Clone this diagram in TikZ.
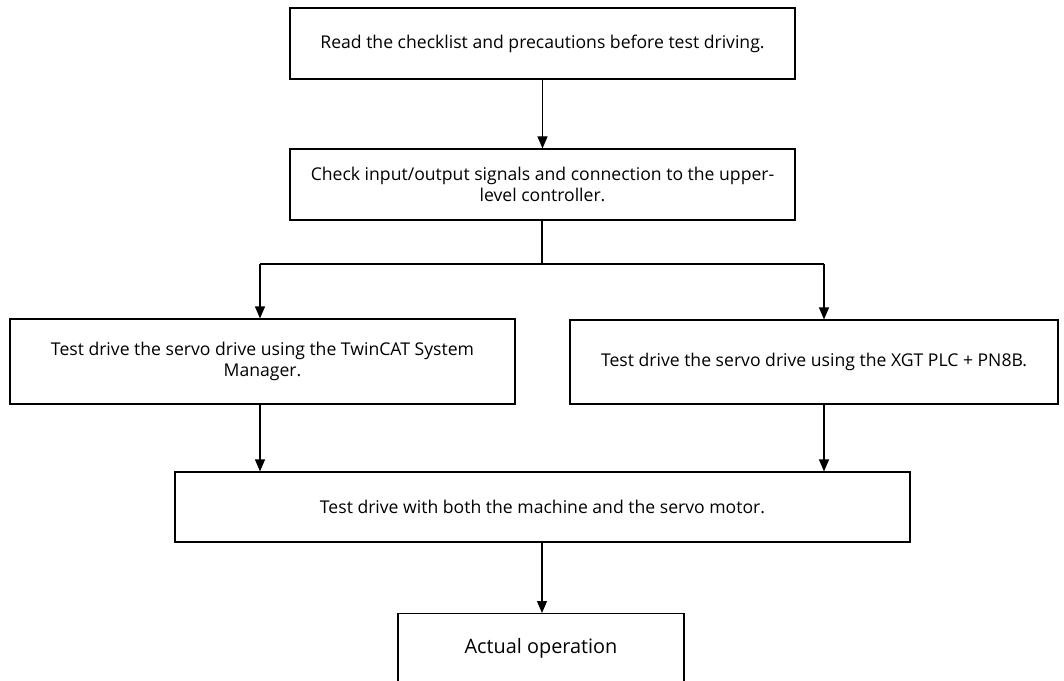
\documentclass[tikz,border=0pt]{standalone}
\usepackage{fontspec}
\setmainfont{Open Sans}
\usetikzlibrary{arrows.meta}
\begin{document}
\begin{tikzpicture}[x=0.75pt,y=-0.75pt,
  box/.style={draw, line width=0.9pt, inner sep=0pt, align=center,
    font=\fontsize{13.2}{15.5}\selectfont},
  sz/.style 2 args={minimum width=#1*0.75pt, minimum height=#2*0.75pt},
  arr/.style={-{Triangle[length=9pt,width=7.5pt]}, line width=0.9pt},
  ln/.style={line width=0.9pt}]
\useasboundingbox (0,0) rectangle (1064,681);
\clip (0,0) rectangle (1064,681);
\node[box, sz={505}{71}] (b1) at (542.5,43.5) {Read the checklist and precautions before test driving.};
\node[box, sz={505}{71}] (b2) at (542.5,184.5) {Check input/output signals and connection to the upper-\\level controller.};
\node[box, sz={505}{85}] (b3) at (262.5,361.5) {Test drive the servo drive using the TwinCAT System\\Manager.};
\node[box, sz={488}{84}] (b4) at (814,362) {Test drive the servo drive using the XGT PLC + PN8B.};
\node[box, sz={735}{70}] (b5) at (542.5,507) {Test drive with both the machine and the servo motor.};
\node[box, sz={286}{100}, text depth=0pt, anchor=north, text height=0pt] (b6) at (541,613) {};
\node[font=\fontsize{14.9}{18}\selectfont] (t6) at (541,648) {Actual operation};
\coordinate (j) at (542,264);
\coordinate (jl) at (260,264);
\coordinate (jr) at (824,264);
\draw[arr] (b1.south) -- (b2.north);
\draw[ln] (b2.south -| j) -- (j);
\draw[ln] (jl) -- (jr);
\draw[arr] (jl) -- (jl |- b3.north);
\draw[arr] (jr) -- (jr |- b4.north);
\draw[arr] (b3.south -| jl) -- (jl |- b5.north);
\draw[arr] (b4.south -| jr) -- (jr |- b5.north);
\draw[arr] (b5.south -| j) -- (b6.north -| j);
\end{tikzpicture}
\end{document}
